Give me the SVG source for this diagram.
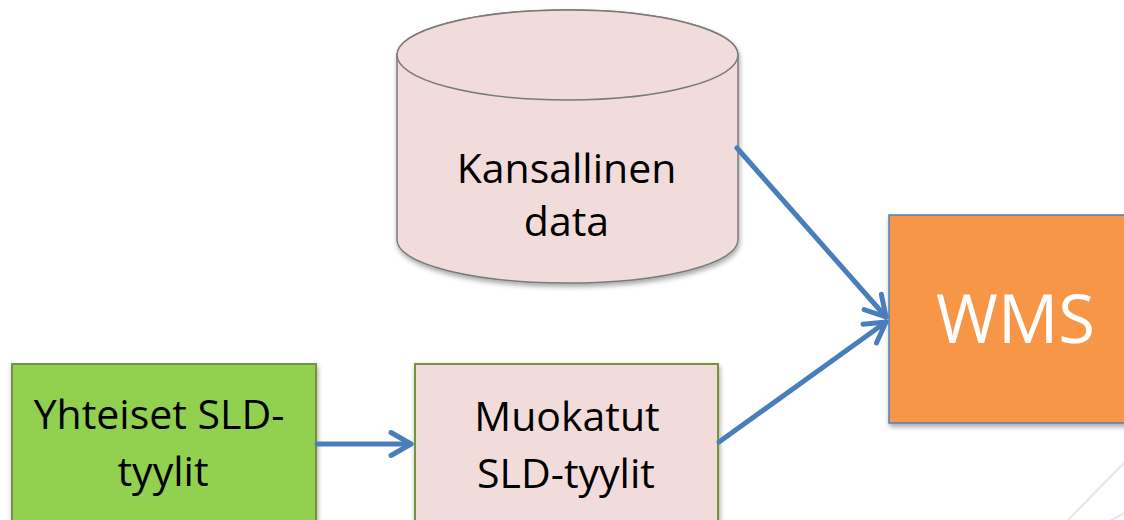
<svg xmlns="http://www.w3.org/2000/svg" width="1124" height="520" viewBox="0 0 1124 520">
  <style>
    .lbl { font-family: "Open Sans", "DejaVu Sans", sans-serif; font-size: 41px; fill: #000; text-anchor: middle; }
    .big { font-family: "Open Sans", "DejaVu Sans", sans-serif; font-size: 67px; fill: #fff; text-anchor: middle; }
    .conn { stroke: #4A7EBB; stroke-width: 5; fill: none; stroke-linecap: round; }
    .deco { stroke: #E2E6EE; stroke-width: 2; fill: none; }
  </style>
  <defs>
    <filter id="sh" x="-10%" y="-10%" width="120%" height="130%">
      <feDropShadow dx="1" dy="3" stdDeviation="2.5" flood-color="#000" flood-opacity="0.35"/>
    </filter>
    <marker id="ah" viewBox="-26 -15 30 30" refX="0" refY="0" markerWidth="30" markerHeight="30" markerUnits="userSpaceOnUse" orient="auto">
      <path d="M-20,-11.5 L0,0 L-20,11.5" fill="none" stroke="#4A7EBB" stroke-width="5" stroke-linecap="round" stroke-linejoin="round"/>
    </marker>
  </defs>
  <rect width="1124" height="520" fill="#ffffff"/>
  <g id="background">
    <line class="deco" x1="1126" y1="461" x2="1066" y2="522"/>
    <line class="deco" x1="1126" y1="512" x2="1108" y2="522"/>
  </g>
  <g id="node-kansallinen-data">
    <g filter="url(#sh)">
      <path d="M397,55 L397,240 A170.5,43 0 0 0 738,240 L738,55 A170.5,45 0 0 0 397,55 Z" fill="#F2DCDB" stroke="#7A7A7A" stroke-width="1.5"/>
    </g>
    <ellipse cx="567.5" cy="55" rx="170.5" ry="45" fill="#F2DCDB" stroke="#7A7A7A" stroke-width="1.5"/>
    <text class="lbl" x="566.5" y="183">Kansallinen</text>
    <text class="lbl" x="566.5" y="236">data</text>
  </g>
  <g id="node-wms">
    <rect x="889" y="215" width="300" height="208" fill="#F79646" stroke="#4F81BD" stroke-width="1.5" filter="url(#sh)"/>
    <text class="big" x="1015.5" y="343">WMS</text>
  </g>
  <g id="node-yhteiset">
    <rect x="12" y="364" width="304" height="200" fill="#92D050" stroke="#77933C" stroke-width="2" filter="url(#sh)"/>
    <text class="lbl" x="159" y="429">Yhteiset SLD-</text>
    <text class="lbl" x="163" y="486">tyylit</text>
  </g>
  <g id="node-muokatut">
    <rect x="415" y="364" width="303" height="200" fill="#F2DCDB" stroke="#77933C" stroke-width="2" filter="url(#sh)"/>
    <text class="lbl" x="567" y="431">Muokatut</text>
    <text class="lbl" x="566" y="488">SLD-tyylit</text>
  </g>
  <g id="connectors">
    <line class="conn" x1="737" y1="148" x2="886" y2="317" marker-end="url(#ah)"/>
    <line class="conn" x1="719" y1="442" x2="886" y2="322" marker-end="url(#ah)"/>
    <line class="conn" x1="317" y1="444" x2="411" y2="444" marker-end="url(#ah)"/>
  </g>
</svg>
